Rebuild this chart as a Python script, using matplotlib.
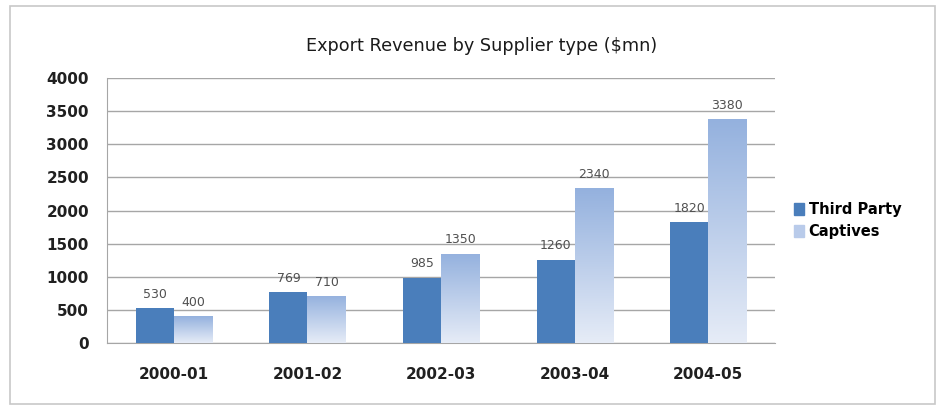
import numpy as np
import matplotlib.pyplot as plt
import matplotlib.patches as patches
from matplotlib.colors import LinearSegmentedColormap

years = ["2000-01", "2001-02", "2002-03", "2003-04", "2004-05"]
third_party = [530, 769, 985, 1260, 1820]
captives = [400, 710, 1350, 2340, 3380]
y_ticks = [0, 500, 1000, 1500, 2000, 2500, 3000, 3500, 4000]

plt.rcParams["font.family"] = ["DejaVu Sans"]

fig = plt.figure(figsize=(9.43, 4.12), dpi=100)
ax = fig.add_axes([0.1135, 0.1675, 0.7085, 0.643])

# outer chart border
fig.patches.append(patches.Rectangle((0.011, 0.02), 0.98, 0.965, transform=fig.transFigure,
                                     fill=False, edgecolor="#c8c8c8", linewidth=1.2))

x = np.arange(len(years))
w = 0.285
dark = "#4a7ebb"
grad = LinearSegmentedColormap.from_list("grad", ["#e6ecf7", "#94b1de"])

ax.bar(x - w / 2, third_party, w, color=dark, zorder=3)

# captives bars drawn with a vertical gradient
gradient = np.linspace(0, 1, 256).reshape(-1, 1)
for xi, v in zip(x, captives):
    rect = patches.Rectangle((xi, 0), w, v, facecolor="none", edgecolor="none", zorder=3)
    ax.add_patch(rect)
    im = ax.imshow(gradient, cmap=grad, origin="lower", aspect="auto",
                   extent=(xi, xi + w, 0, v), zorder=3)
    im.set_clip_path(rect)

for xi, v in zip(x, third_party):
    ax.text(xi - w / 2, v + 110, str(v), ha="center", va="bottom", fontsize=9, color="#505050")
for xi, v in zip(x, captives):
    ax.text(xi + w / 2, v + 110, str(v), ha="center", va="bottom", fontsize=9, color="#505050")

ax.set_xlim(-0.5, len(years) - 0.5)
ax.set_ylim(0, 4000)
ax.set_yticks(y_ticks)
ax.set_yticklabels([str(t) for t in y_ticks], fontsize=11, fontweight="bold", color="#202020")
ax.set_xticks(x)
ax.set_xticklabels(years, fontsize=11, fontweight="bold", color="#202020")
ax.tick_params(axis="both", length=0)
ax.tick_params(axis="y", pad=13)
ax.tick_params(axis="x", pad=17)
ax.yaxis.grid(True, color="#a6a6a6", linewidth=1, zorder=0)
ax.set_axisbelow(True)
for s in ["top", "right"]:
    ax.spines[s].set_visible(False)
for s in ["left", "bottom"]:
    ax.spines[s].set_color("#a6a6a6")

fig.text(0.511, 0.888, "Export Revenue by Supplier type ($mn)", ha="center", va="center",
         fontsize=12.7, color="#1a1a1a")

handles = [patches.Patch(color=dark), patches.Patch(color="#b9cbea")]
fig.legend(handles, ["Third Party", "Captives"], loc="center left",
           bbox_to_anchor=(0.828, 0.465), frameon=False,
           handlelength=0.7, handleheight=0.9, handletextpad=0.3, labelspacing=0.45,
           prop={"weight": "bold", "size": 10.5})

fig.savefig("out.png", dpi=100)
